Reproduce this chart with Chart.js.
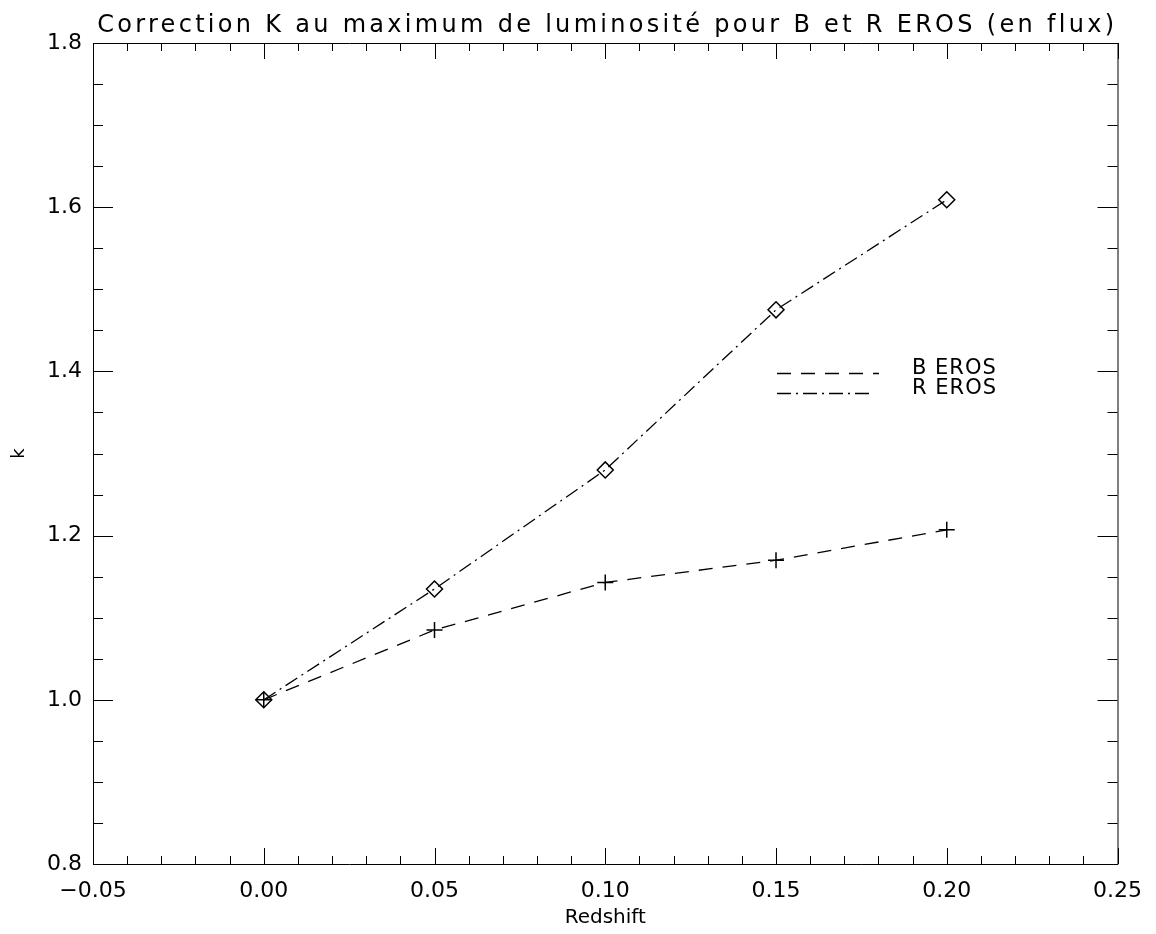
<!DOCTYPE html>
<html lang="fr">
<head>
<meta charset="UTF-8">
<title>Correction K au maximum de luminosité</title>
<script src="https://cdn.jsdelivr.net/npm/chart.js"></script>
<style>
    html, body { margin: 0; padding: 0; background: #fff; }
    #wrap { width: 1156px; height: 934px; }
</style>
</head>
<body>
<div id="wrap"><canvas id="kChart"></canvas></div>
<script>
    // données
    const redshifts = [0.00, 0.05, 0.10, 0.15, 0.20];
    const kB = [1.000, 1.085, 1.143, 1.170, 1.207];
    const kR = [1.000, 1.135, 1.280, 1.475, 1.609];
    const xTicks = [-0.05, 0.00, 0.05, 0.10, 0.15, 0.20, 0.25];
    const yTicks = [0.8, 1.0, 1.2, 1.4, 1.6, 1.8];

    const titre = 'Correction K au maximum de luminosité pour B et R EROS (en flux)';
    const police = '"DejaVu Sans", sans-serif';

    // cadre style IDL : ticks vers l'intérieur sur les 4 côtés
    const boxTicks = {
        id: 'boxTicks',
        afterDraw(chart) {
            const { ctx, chartArea: a, scales } = chart;
            const x = scales.x, y = scales.y;
            ctx.save();
            ctx.strokeStyle = '#000';
            ctx.lineWidth = 1;
            ctx.beginPath();
            ctx.rect(a.left + 0.5, a.top + 0.5, a.right - a.left, a.bottom - a.top);
            // x : majeur tous les 0.05, mineur tous les 0.01
            for (let i = 0; i <= 30; i++) {
                const v = -0.05 + i * 0.01;
                const px = Math.round(x.getPixelForValue(v)) + 0.5;
                const len = i % 5 === 0 ? 16 : 8;
                ctx.moveTo(px, a.bottom); ctx.lineTo(px, a.bottom - len);
                ctx.moveTo(px, a.top); ctx.lineTo(px, a.top + len);
            }
            // y : majeur tous les 0.2, mineur tous les 0.05
            for (let i = 0; i <= 20; i++) {
                const v = 0.8 + i * 0.05;
                const py = Math.round(y.getPixelForValue(v)) + 0.5;
                const len = i % 4 === 0 ? 20 : 10;
                ctx.moveTo(a.left, py); ctx.lineTo(a.left + len, py);
                ctx.moveTo(a.right, py); ctx.lineTo(a.right - len, py);
            }
            ctx.stroke();

            // titre
            ctx.fillStyle = '#000';
            ctx.font = '24px ' + police;
            ctx.letterSpacing = '3.3px';
            ctx.textAlign = 'center';
            ctx.textBaseline = 'alphabetic';
            ctx.fillText(titre, (a.left + a.right) / 2 + 2, 32);

            // légende à l'intérieur du graphique
            ctx.font = '21px ' + police;
            ctx.letterSpacing = '1px';
            ctx.textAlign = 'left';
            ctx.textBaseline = 'middle';
            chart.data.datasets.forEach((ds, i) => {
                const ly = 373.5 + i * 20;
                ctx.beginPath();
                ctx.setLineDash(ds.borderDash);
                ctx.lineWidth = 1.3;
                ctx.moveTo(777, ly);
                ctx.lineTo(i === 0 ? 879 : 873, ly);
                ctx.stroke();
                ctx.setLineDash([]);
                ctx.fillText(ds.label, 912, ly - 5);
            });
            ctx.restore();
        }
    };

    new Chart(document.getElementById('kChart'), {
        type: 'scatter',
        data: {
            datasets: [
                {
                    label: 'B EROS',
                    data: redshifts.map((z, i) => ({ x: z, y: kB[i] })),
                    showLine: true,
                    borderColor: '#000',
                    backgroundColor: 'rgba(0,0,0,0)',
                    borderWidth: 1.3,
                    borderDash: [14, 10],
                    pointStyle: 'cross',
                    pointRadius: 8,
                    pointBorderWidth: 1.5,
                    pointBorderColor: '#000'
                },
                {
                    label: 'R EROS',
                    data: redshifts.map((z, i) => ({ x: z, y: kR[i] })),
                    showLine: true,
                    borderColor: '#000',
                    backgroundColor: 'rgba(0,0,0,0)',
                    borderWidth: 1.3,
                    borderDash: [14, 5, 2, 5],
                    pointStyle: 'rectRot',
                    pointRadius: 8,
                    pointBorderWidth: 1.5,
                    pointBorderColor: '#000',
                    pointBackgroundColor: 'rgba(0,0,0,0)'
                }
            ]
        },
        options: {
            responsive: true,
            maintainAspectRatio: false,
            animation: false,
            layout: { padding: { top: 43, right: 38, left: 0, bottom: 0 } },
            plugins: {
                legend: { display: false },
                title: { display: false },
                tooltip: { enabled: false }
            },
            scales: {
                x: {
                    type: 'linear',
                    min: -0.05,
                    max: 0.25,
                    afterBuildTicks: s => { s.ticks = xTicks.map(v => ({ value: v })); },
                    afterFit: s => { s.height = 70; },
                    grid: { display: false, drawTicks: false },
                    border: { display: false },
                    ticks: {
                        color: '#000',
                        padding: 14,
                        maxRotation: 0,
                        font: { family: police, size: 22 },
                        callback: v => (v < 0 ? '\u2212' : '') + Math.abs(v).toFixed(2)
                    },
                    title: {
                        display: true,
                        text: 'Redshift',
                        color: '#000',
                        font: { family: police, size: 20 },
                        padding: { top: 0, bottom: 4 }
                    }
                },
                y: {
                    type: 'linear',
                    min: 0.8,
                    max: 1.8,
                    afterBuildTicks: s => { s.ticks = yTicks.map(v => ({ value: v })); },
                    afterFit: s => { s.width = 93; },
                    grid: { display: false, drawTicks: false },
                    border: { display: false },
                    ticks: {
                        color: '#000',
                        padding: 11,
                        font: { family: police, size: 22 },
                        callback: v => v.toFixed(1)
                    },
                    title: {
                        display: true,
                        text: 'k',
                        color: '#000',
                        font: { family: police, size: 18 },
                        padding: { top: 9, bottom: 0 }
                    }
                }
            }
        },
        plugins: [boxTicks]
    });
</script>
</body>
</html>
